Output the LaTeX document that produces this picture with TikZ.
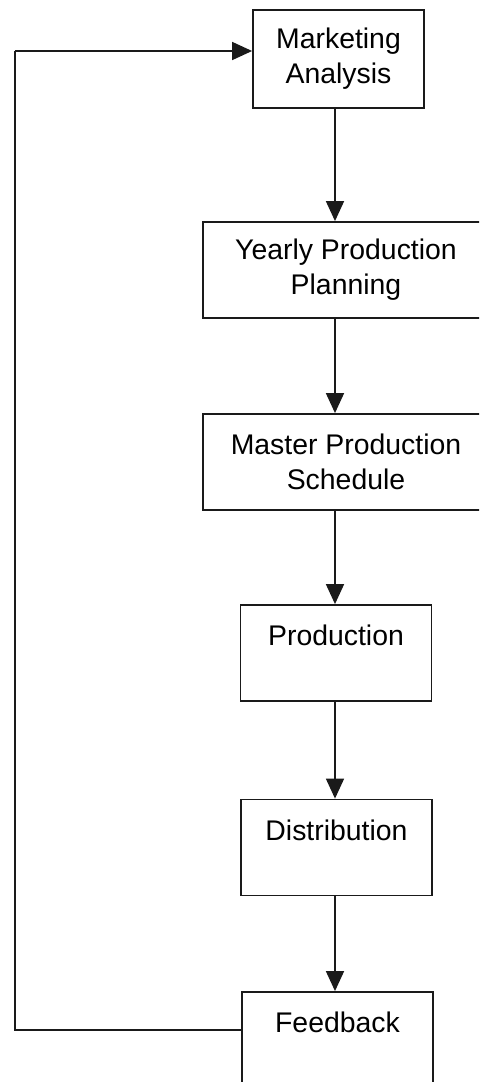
\documentclass[tikz,border=0pt]{standalone}
\usepackage{fontspec}
\setmainfont{Liberation Sans}
\usetikzlibrary{arrows.meta,positioning,calc}
\definecolor{ink}{HTML}{1A1A1A}
\colorlet{dline}{ink}
\tikzset{
  % plain outlined process box
  blk/.style   = {rectangle, draw=dline, line width=0.9pt, fill=white, align=center,
                  inner sep=2pt, font=\fontsize{14.2}{17.5}\selectfont,
                  minimum width=#1, minimum height=48pt},
  blk/.default = 95.5pt,
  arr/.style   = {-{Triangle[length=10pt,width=9pt]}, line width=0.8pt, dline},
  lane/.style  = {line width=0.8pt, dline},
}
\newcommand{\blank}[1]{#1\\\phantom{#1}}

\begin{document}
\begin{tikzpicture}[x=0.5pt,y=-0.5pt]
\useasboundingbox (0,0) rectangle (479,1082);
\clip (0,0) rectangle (479,1082);
% boxes
\node[blk=85.5pt, minimum height=49pt] (ma) at (338.5,59) {Marketing\\Analysis};
\node[blk=143pt] (ypp) at (346,270) {Yearly Production\\Planning};
\node[blk=143pt] (mps) at (346,462) {Master Production\\Schedule};
\node[blk] (prod) at (336,653) {\blank{Production}};
\node[blk] (dist) at (336.5,847.5) {\blank{Distribution}};
\node[blk] (fb) at (337.5,1040) {\blank{Feedback}};
% flow
\draw[arr] (ma.south -| 335,0) -- (ypp.north -| 335,0);
\draw[arr] (ypp.south -| 335,0) -- (mps.north -| 335,0);
\draw[arr] (mps.south -| 335,0) -- (prod.north -| 335,0);
\draw[arr] (prod.south -| 335,0) -- (dist.north -| 335,0);
\draw[arr] (dist.south -| 335,0) -- (fb.north -| 335,0);
% feedback loop
\coordinate (loopb) at (15,1030);
\coordinate (loopt) at (15,51);
\draw[lane] (loopb -| fb.west) -- (loopb) -- (loopt);
\draw[arr] (loopt) -- (loopt -| ma.west);
\end{tikzpicture}
\end{document}
